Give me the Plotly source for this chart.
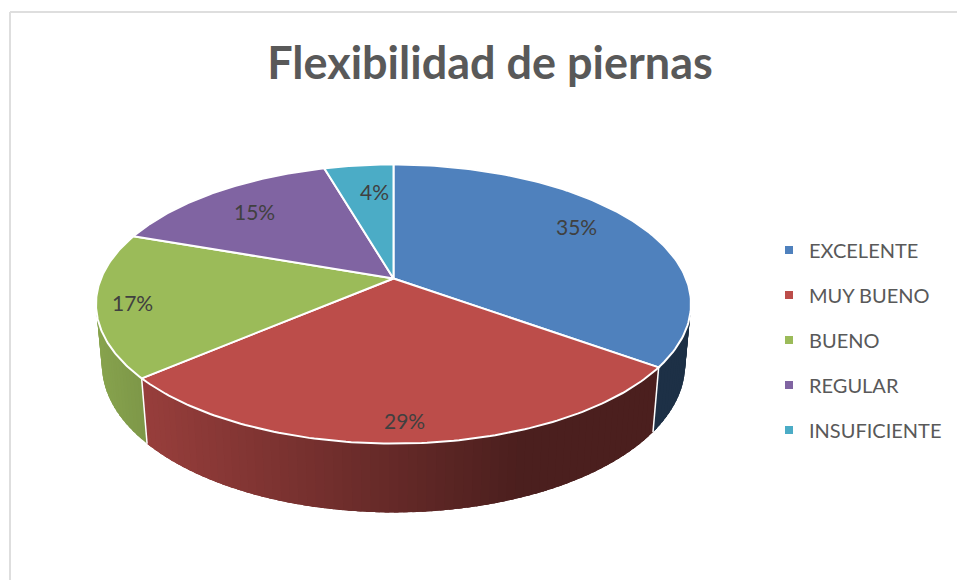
import numpy as np
import plotly.graph_objects as go

# ---- data ----
categories = ["EXCELENTE", "MUY BUENO", "BUENO", "REGULAR", "INSUFICIENTE"]
shares = [35.0, 28.7, 16.7, 15.11, 4.49]

# ---- styles ----
top_colors = ["#4F81BD", "#BC4D4A", "#9BBB59", "#8064A2", "#4BACC6"]
TITLE = "Flexibilidad de piernas"
FONT = "Lato, Carlito, sans-serif"
W, H = 957, 580

# ---- projection of the tilted disc onto the page ----
CX, CY = 393.5, 278.5
A, B, PERSP = 292.5, 134.9, 0.1829
DEPTH_Y, DEPTH_W = 60.8, 0.0194


def project(theta, radius=1.0, z=0.0):
    t = np.radians(theta)
    X, Y = radius * np.sin(t), radius * np.cos(t)
    w = 1 + PERSP * Y + DEPTH_W * z
    return CX + A * X / w, CY + (-B * Y + DEPTH_Y * z) / w


def shade(hex_color, f):
    r, g, b = (int(hex_color[i:i + 2], 16) for i in (1, 3, 5))
    return f"rgb({r * f:.0f},{g * f:.0f},{b * f:.0f})"


def wall_factor(i, x):
    if i == 1:
        return float(np.interp(x, [147, 520], [0.80, 0.40]))
    if i == 2:
        return float(np.interp(x, [97, 147], [0.87, 0.80]))
    return 0.37


total = sum(shares)
edges = np.concatenate([[0], np.cumsum(shares)]) / total * 360
fig = go.Figure()

# side walls, as overlapping strips so that their shade can vary without seams
for i in range(len(shares)):
    steps = max(2, int((edges[i + 1] - edges[i]) / 1.5))
    th = np.linspace(edges[i], edges[i + 1], steps + 1)
    d = th[1] - th[0]
    for a in th[:-1]:
        arc = np.linspace(a, min(a + 2.5 * d, edges[i + 1]), 5)
        x0, y0 = project(arc)
        x1, y1 = project(arc[::-1], z=1.0)
        col = shade(top_colors[i], wall_factor(i, float(project(a + d / 2)[0])))
        fig.add_trace(go.Scatter(
            x=np.r_[x0, x1, x0[0]], y=np.r_[y0, y1, y0[0]], mode="lines",
            fill="toself", fillcolor=col, line=dict(width=0),
            hoverinfo="skip", showlegend=False))

# white dividers on the visible wall joints
for e in edges[1:3]:
    px, py = project(np.array([e, e]), z=np.array([0.0, 1.0]))
    fig.add_trace(go.Scatter(x=px, y=py, mode="lines",
                             line=dict(color="white", width=1.5),
                             hoverinfo="skip", showlegend=False))

# top face
for i, name in enumerate(categories):
    th = np.linspace(edges[i], edges[i + 1], 120)
    x, y = project(th)
    fig.add_trace(go.Scatter(
        x=np.r_[CX, x, CX], y=np.r_[CY, y, CY], mode="lines", fill="toself",
        fillcolor=top_colors[i], line=dict(color="white", width=2),
        name=name, hoverinfo="skip", showlegend=False))

# legend entries
for i, name in enumerate(categories):
    fig.add_trace(go.Scatter(
        x=[None], y=[None], mode="markers", name=name, legendgroup=name,
        marker=dict(symbol="square", size=8, color=top_colors[i])))

# data labels
label_xy = [(576, 226), (404, 420), (132, 302), (254, 211), (374, 191)]
for v, (lx, ly) in zip(shares, label_xy):
    fig.add_annotation(x=lx, y=ly, text=f"{round(v / total * 100)}%", showarrow=False,
                       font=dict(family=FONT, size=21, color="#404040"))

# outer frame (only its top and left sides are in view)
fig.add_shape(type="line", x0=10, x1=W, y0=12, y1=12, line=dict(color="#DEDEDE", width=2))
fig.add_shape(type="line", x0=10, x1=10, y0=12, y1=H, line=dict(color="#DEDEDE", width=2))

fig.update_layout(
    width=W, height=H, margin=dict(l=0, r=0, t=0, b=0),
    paper_bgcolor="white", plot_bgcolor="white",
    xaxis=dict(range=[0, W], visible=False, fixedrange=True),
    yaxis=dict(range=[H, 0], visible=False, fixedrange=True),
    title=dict(text=f"<b>{TITLE}</b>", x=490 / W, y=1 - 63 / H, xanchor="center", yanchor="middle",
               font=dict(family=FONT, size=45, color="#595959")),
    legend=dict(x=769 / W, y=1 - 230.5 / H, xanchor="left", yanchor="top",
                tracegroupgap=16, bgcolor="rgba(0,0,0,0)",
                font=dict(family=FONT, size=20, color="#595959")),
    hovermode=False,
)
fig.write_html("out.html", config={"displayModeBar": False},
               post_script="document.body.style.margin='0';document.body.style.overflow='hidden';")
